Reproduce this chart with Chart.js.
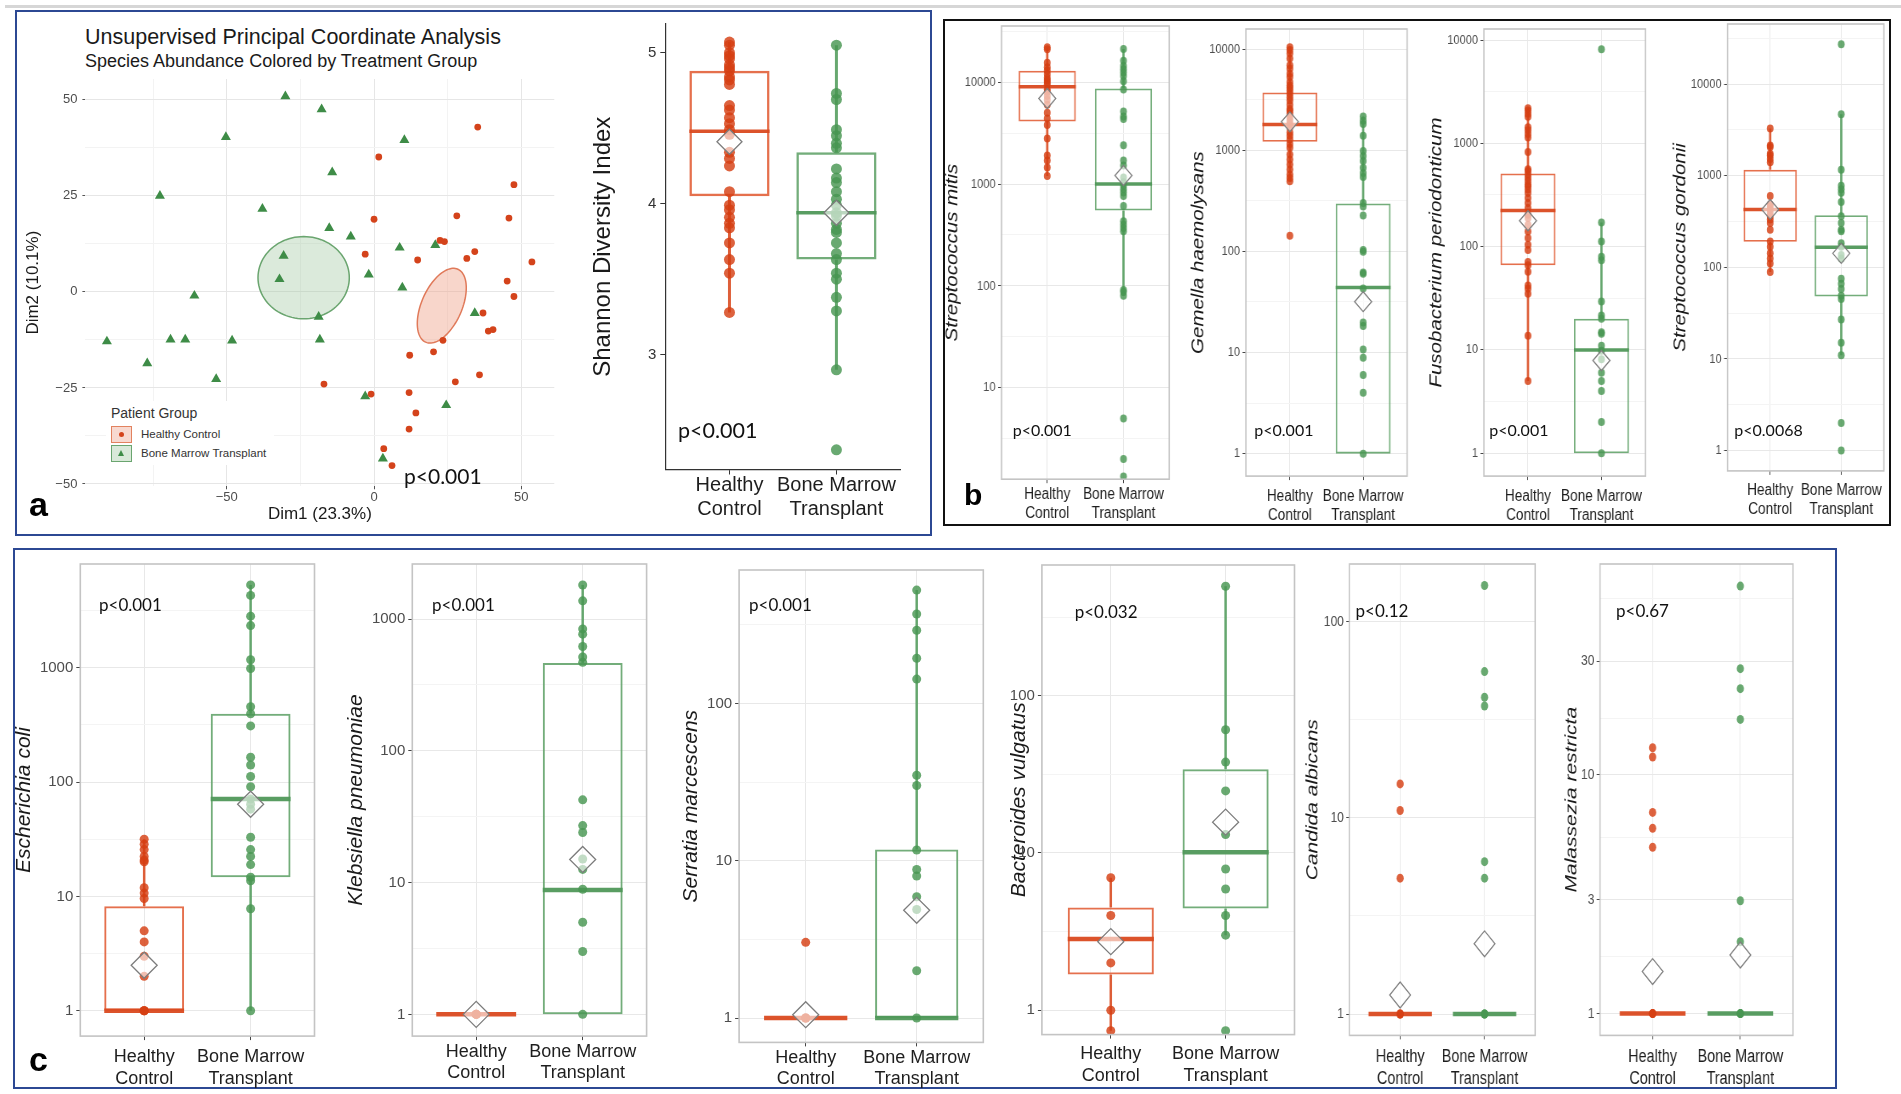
<!DOCTYPE html>
<html lang="en">
<head>
<meta charset="UTF-8">
<meta name="viewport" content="width=device-width, initial-scale=1.0">
<title>Oral microbiome: healthy controls vs bone marrow transplant</title>
<script src="https://cdn.jsdelivr.net/npm/chart.js"></script>
<style>
    html, body { margin: 0; padding: 0; background: #fff; }
    #stage { position: relative; width: 1901px; height: 1094px; overflow: hidden;
             font-family: 'Liberation Sans', Arial, sans-serif; color: #1a1a1a; }
    #stage canvas { position: absolute; }
    .box { position: absolute; box-sizing: border-box; }
    .txt { position: absolute; white-space: nowrap; line-height: 1; }
    .pval { font-family: Lato, 'Open Sans', sans-serif; color: #111; }
    .letter { font-weight: bold; color: #000; }
</style>
</head>
<body>
<div id="stage">
    <div class="box" style="left:5px;top:5px;width:1896px;height:2.5px;background:#d6d6d6"></div>
    <div class="box" style="left:15px;top:10px;width:917px;height:526px;border:2px solid #2c4893"></div>
    <div class="box" style="left:943px;top:19px;width:948px;height:507px;border:2px solid #111"></div>
    <div class="box" style="left:13px;top:548px;width:1824px;height:541px;border:2px solid #2c4893"></div>

    <div class="txt" style="left:85px;top:27px;font-size:21.5px">Unsupervised Principal Coordinate Analysis</div>
    <div class="txt" style="left:85px;top:52px;font-size:18px">Species Abundance Colored by Treatment Group</div>
</div>

<script>
    // ---------- data ----------
    const groupNames = ['Healthy Control', 'Bone Marrow Transplant'];
    const groupLabels = [['Healthy', 'Control'], ['Bone Marrow', 'Transplant']];

    // PCoA points [Dim1, Dim2]
    const pcoaHealthy = [[35.2,42.9],[1.6,35.1],[47.5,27.9],[28.1,19.8],[45.8,19.2],[0.0,18.9],[22.4,13.4],[23.9,13.1],
        [34.2,10.5],[-3.0,9.8],[14.8,8.3],[31.5,8.7],[53.6,7.8],[45.2,2.8],[47.5,-1.2],[37.0,-5.5],[38.8,-10.2],[40.4,-9.8],
        [23.4,-12.6],[12.1,-16.5],[20.2,-15.6],[-17.0,-24.0],[35.8,-21.6],[27.6,-23.4],[-1.0,-26.6],[11.9,-26.2],
        [14.2,-31.5],[11.9,-35.7],[3.3,-40.8],[6.1,-45.2]];
    const pcoaTransplant = [[-30.1,50.9],[-17.8,47.5],[-50.3,40.3],[10.3,39.5],[-14.2,31.1],[-72.7,25.0],[-37.9,21.6],
        [-15.2,16.6],[-7.9,14.4],[8.7,11.5],[20.8,12.2],[-30.7,9.4],[-32.1,3.3],[-1.8,4.5],[9.6,1.1],[-61.0,-1.0],
        [-18.8,-6.5],[34.2,-5.5],[-90.7,-12.9],[-69.1,-12.4],[-64.1,-12.4],[-48.2,-12.7],[-18.4,-12.4],[-77.0,-18.6],
        [-53.6,-22.7],[-3.0,-27.2],[24.5,-29.5],[3.0,-43.4]];
    // ellipse: centre x, centre y, first semi-axis (dx, dy), second semi-axis (dx, dy)
    const pcoaEllipseHealthy = [23.0, -3.6, 5.46, 9.49, 6.27, -2.12];
    const pcoaEllipseTransplant = [-23.9, 3.7, 15.5, 0, 0, 10.7];
    const pcoaXTicks = [-50, 0, 50];
    const pcoaXMinor = [-75, -25, 25];
    const pcoaYTicks = [-50, -25, 0, 25, 50];
    const pcoaYMinor = [-37.5, -12.5, 12.5, 37.5];

    // box stats: [lower whisker, q1, median, q3, upper whisker, mean]
    const shannonHealthy = [5.07,5.05,5.0,4.98,4.96,4.92,4.9,4.88,4.84,4.82,4.79,4.65,4.62,4.57,4.53,4.49,4.46,4.34,4.3,4.25,
        4.08,3.99,3.96,3.91,3.87,3.84,3.74,3.63,3.54,3.28];
    const shannonTransplant = [5.05,4.73,4.69,4.49,4.45,4.4,4.37,4.23,4.17,4.14,4.08,4.03,3.99,3.94,3.92,3.87,3.83,3.81,
        3.74,3.67,3.63,3.54,3.5,3.38,3.29,2.9,2.37];
    const shannonBoxHealthy = [3.28, 4.05, 4.48, 4.88, 5.07, 4.41];
    const shannonBoxTransplant = [2.9, 3.63, 3.94, 4.34, 5.05, 3.94];
    const shannonTicks = [3, 4, 5];

    const decadeTicks = [1, 10, 100, 1000, 10000];
    const halfDecadeTicks = [3.162, 31.62, 316.2, 3162, 31623];
    const malasseziaTicks = [1, 3, 10, 30];
    const malasseziaMinor = [1.732, 5.477, 17.32, 54.77];

    const mitisHealthy = [22000,21000,15500,14000,13000,12000,11000,10500,10000,9500,8500,8000,7300,6700,6000,5000,4400,3800,2800,1900,1700,1450,1200];
    const mitisTransplant = [21100,16200,14400,13400,12400,11500,10200,8460,5150,4590,4350,2400,1700,1520,1160,1040,960,890,824,763,608,431,399,370,343,91,87,80,5,2,1.35];
    const mitisBoxHealthy = [1200, 4100, 9000, 12900, 22000, 6900];
    const mitisBoxTransplant = [80, 550, 1000, 8650, 21100, 1210];

    const gemellaHealthy = [10400,9770,9050,8070,6920,6410,5710,5290,4720,4370,4150,3900,3610,3350,3100,2810,2560,2460,2280,2110,1960,1810,1680,1500,1390,1280,1150,1060,910,811,724,645,575,532,493,143];
    const gemellaTransplant = [2150,1960,1815,1390,984,877,782,670,597,545,300,278,226,103,99,62,60,43,19.8,18.3,10.7,8.9,6.0,4.0,1];
    const gemellaBoxHealthy = [493, 1210, 1800, 3720, 10400, 1910];
    const gemellaBoxTransplant = [1, 1, 44, 297, 2150, 31.8];

    const fusoHealthy = [2190,2080,1930,1810,1430,1340,1230,1140,826,560,540,500,464,431,400,385,357,331,296,265,237,204,189,163,140,121,104,93,71,66,57,42,39,35,13.7,5];
    const fusoTransplant = [8170,171,112,80,74,29.5,21.5,20,14.8,14.3,11,9.8,8.1,6,5,4,2,1];
    const fusoBoxHealthy = [5, 66, 224, 512, 2190, 178];
    const fusoBoxTransplant = [1, 1, 10, 20, 171, 7.9];

    const gordoniiHealthy = [3270,2140,2050,1730,1660,1520,1400,600,486,465,428,393,361,332,305,257,191,168,142,125,110,89];
    const gordoniiTransplant = [27200,4670,1160,774,711,653,515,361,305,257,247,183,168,136,125,75,66,58,49,45,27,15,11,2,1];
    const gordoniiBoxHealthy = [89, 190, 428, 1160, 3270, 428];
    const gordoniiBoxTransplant = [11, 48, 166, 371, 4670, 142];

    const coliHealthy = [31.7,28.6,25.7,22.4,20.8,20.1,11.9,10.7,9.6,5.0,4.0,3.0,2.0,1,1,1];
    const coliTransplant = [5310,4300,2830,2340,1175,986,456,396,310,165,141,112,91,71,64,58,32.9,25.7,22.4,19,14.7,13.7,7.8,1];
    const coliBoxHealthy = [1, 1, 1, 8.2, 31.7, 2.5];
    const coliBoxTransplant = [1, 14.7, 71, 396, 5310, 64];

    const klebsiellaHealthy = [1, 1, 1, 1];
    const klebsiellaTransplant = [1815,1377,843,769,620,516,470,42.5,27.1,24,15.1,12.6,8.9,5.0,3.0,1];
    const klebsiellaBoxHealthy = [1, 1, 1, 1, 1, 1];
    const klebsiellaBoxTransplant = [1, 1, 8.8, 465, 1815, 15];

    const serratiaHealthy = [3.03, 1, 1, 1];
    const serratiaTransplant = [526,371,292,194,143,35,30.1,11.7,8.8,8.0,5.9,4.9,2.0,1];
    const serratiaBoxHealthy = [1, 1, 1, 1, 1, 1.05];
    const serratiaBoxTransplant = [1, 1, 1, 11.8, 526, 4.84];

    const bacteroidesHealthy = [6.95, 4.0, 2.0, 1, 0.74];
    const bacteroidesTransplant = [496, 60.7, 37.8, 24.8, 13.1, 7.9, 5.9, 4.0, 3.0, 0.74];
    const bacteroidesBoxHealthy = [0.74, 1.69, 2.84, 4.5, 6.95, 2.73];
    const bacteroidesBoxTransplant = [3.0, 4.43, 10.1, 34.1, 496, 15.7];

    const candidaHealthy = [14.9, 10.9, 4.93, 1, 1, 1];
    const candidaTransplant = [153, 55.7, 41.2, 37.2, 5.98, 4.93, 1, 1, 1];
    const candidaBoxHealthy = [1, 1, 1, 1, 1, 1.25];
    const candidaBoxTransplant = [1, 1, 1, 1, 1, 2.28];

    const malasseziaHealthy = [13.0, 11.9, 6.97, 5.98, 4.98, 1, 1, 1];
    const malasseziaTransplant = [61.9, 27.9, 23.0, 17.1, 2.97, 2.0, 1, 1, 1];
    const malasseziaBoxHealthy = [1, 1, 1, 1, 1, 1.5];
    const malasseziaBoxTransplant = [1, 1, 1, 1, 1, 1.76];

    const shannonPanel = { title: 'Shannon Diversity Index', p: 'p<0.001', log: false, min: 2.24, max: 5.19,
        ticks: shannonTicks, minor: [], healthy: shannonHealthy, transplant: shannonTransplant,
        boxHealthy: shannonBoxHealthy, boxTransplant: shannonBoxTransplant };

    const panelsB = [
        { title: 'Streptococcus mitis', p: 'p<0.001', log: true, min: 1.27, max: 35500, ticks: decadeTicks, minor: halfDecadeTicks,
          healthy: mitisHealthy, transplant: mitisTransplant, boxHealthy: mitisBoxHealthy, boxTransplant: mitisBoxTransplant },
        { title: 'Gemella haemolysans', p: 'p<0.001', log: true, min: 0.63, max: 15800, ticks: decadeTicks, minor: halfDecadeTicks,
          healthy: gemellaHealthy, transplant: gemellaTransplant, boxHealthy: gemellaBoxHealthy, boxTransplant: gemellaBoxTransplant },
        { title: 'Fusobacterium periodonticum', p: 'p<0.001', log: true, min: 0.64, max: 12800, ticks: decadeTicks, minor: halfDecadeTicks,
          healthy: fusoHealthy, transplant: fusoTransplant, boxHealthy: fusoBoxHealthy, boxTransplant: fusoBoxTransplant },
        { title: 'Streptococcus gordonii', p: 'p<0.0068', log: true, min: 0.62, max: 45200, ticks: decadeTicks, minor: halfDecadeTicks,
          healthy: gordoniiHealthy, transplant: gordoniiTransplant, boxHealthy: gordoniiBoxHealthy, boxTransplant: gordoniiBoxTransplant }
    ];

    const panelsC = [
        { title: 'Escherichia coli', p: 'p<0.001', log: true, min: 0.647, max: 8090, ticks: decadeTicks, minor: halfDecadeTicks,
          healthy: coliHealthy, transplant: coliTransplant, boxHealthy: coliBoxHealthy, boxTransplant: coliBoxTransplant },
        { title: 'Klebsiella pneumoniae', p: 'p<0.001', log: true, min: 0.684, max: 2620, ticks: decadeTicks, minor: halfDecadeTicks,
          healthy: klebsiellaHealthy, transplant: klebsiellaTransplant, boxHealthy: klebsiellaBoxHealthy, boxTransplant: klebsiellaBoxTransplant },
        { title: 'Serratia marcescens', p: 'p<0.001', log: true, min: 0.73, max: 706, ticks: decadeTicks, minor: halfDecadeTicks,
          healthy: serratiaHealthy, transplant: serratiaTransplant, boxHealthy: serratiaBoxHealthy, boxTransplant: serratiaBoxTransplant },
        { title: 'Bacteroides vulgatus', p: 'p<0.032', log: true, min: 0.736, max: 677, ticks: decadeTicks, minor: halfDecadeTicks,
          healthy: bacteroidesHealthy, transplant: bacteroidesTransplant, boxHealthy: bacteroidesBoxHealthy, boxTransplant: bacteroidesBoxTransplant },
        { title: 'Candida albicans', p: 'p<0.12', log: true, min: 0.778, max: 197, ticks: decadeTicks, minor: halfDecadeTicks,
          healthy: candidaHealthy, transplant: candidaTransplant, boxHealthy: candidaBoxHealthy, boxTransplant: candidaBoxTransplant },
        { title: 'Malassezia restricta', p: 'p<0.67', log: true, min: 0.81, max: 76.6, ticks: malasseziaTicks, minor: malasseziaMinor,
          healthy: malasseziaHealthy, transplant: malasseziaTransplant, boxHealthy: malasseziaBoxHealthy, boxTransplant: malasseziaBoxTransplant }
    ];

    // ---------- layout (page pixels) ----------
    const FONT = "'Liberation Sans', Arial, sans-serif";
    const styleShannon = { sx: 1, xh: 62, tFont: 24, tItalic: false, yFont: 15, xFont: 20, pFont: 21.5, pt: 5.5, dia: 12.5, box: 2.5, med: 3.5, whisker: 3, tick: 5, classic: true };
    const styleB = { sx: 0.85, xh: 48, tFont: 20.5, tItalic: true, yFont: 13, xFont: 16, pFont: 16, pt: 4, dia: 10, box: 1.8, med: 3.5, whisker: 2.3, tick: 4 };
    const styleC = { xh: 56, tFont: 21, tItalic: true, yFont: 15, xFont: 18, pFont: 17, pt: 4.5, dia: 13, box: 2, med: 4.5, whisker: 2.5, tick: 4 };

    const layoutShannon = { cl: 589.4, cw: 326, area: [665.7, 23.5, 901, 469], labelY: 484.9, pX: 678, pY: 431.8 };
    const layoutB = [
        { cl: 942, cw: 238, area: [1001.5, 25.9, 1169.2, 479.1], labelY: 494, pX: 1012.7, pY: 430.8 },
        { cl: 1188, cw: 232, area: [1245.9, 29.3, 1407.1, 476.4], labelY: 496.7, pX: 1254.3, pY: 430.8 },
        { cl: 1426.3, cw: 232, area: [1484.2, 29.3, 1645.8, 476.4], labelY: 496.7, pX: 1489.3, pY: 430.8 },
        { cl: 1670.1, cw: 219, area: [1727.6, 23.5, 1884, 470.4], labelY: 490, pX: 1734.3, pY: 430 }
    ];
    const layoutC = [
        { cl: 12.2, cw: 314, sx: 1, area: [80.5, 564.3, 314.7, 1036.4], labelY: 1057.5, pX: 99, pY: 604.7 },
        { cl: 343.7, cw: 316, sx: 1, area: [412, 564.3, 646.3, 1036.4], labelY: 1052.2, pX: 432, pY: 604.7 },
        { cl: 679, cw: 316, sx: 1, area: [739.1, 570.3, 983.3, 1042.7], labelY: 1058, pX: 749, pY: 604.7 },
        { cl: 1007.4, cw: 297, sx: 1, area: [1042.3, 565, 1294.9, 1034.6], labelY: 1054, pX: 1074.7, pY: 611.7 },
        { cl: 1303.3, cw: 241, sx: 0.8, area: [1349.8, 564.3, 1535.5, 1035.7], labelY: 1057.5, pX: 1355.5, pY: 611 },
        { cl: 1561.9, cw: 243, sx: 0.8, area: [1599.9, 564.3, 1792.9, 1035.7], labelY: 1057.5, pX: 1616, pY: 611 }
    ];

    const PT_RED = 'rgba(214,64,20,0.82)', PT_GREEN = 'rgba(72,150,82,0.82)';
    const WH_RED = 'rgba(218,78,36,0.9)', WH_GREEN = 'rgba(86,158,96,0.9)';
    const BOX_RED = 'rgba(226,96,58,0.9)', BOX_GREEN = 'rgba(100,164,108,0.9)';
    const MED_RED = 'rgba(218,74,32,0.95)', MED_GREEN = 'rgba(80,152,90,0.95)';
    const GRID_MAJOR = '#e8e8e8', GRID_MINOR = '#f4f4f4';

    const stage = document.getElementById('stage');

    Chart.register({
        id: 'frame',
        afterDatasetsDraw(chart, args, opts) {
            if (!opts || !opts.color) return;
            const a = chart.chartArea, ctx = chart.ctx;
            ctx.save();
            ctx.strokeStyle = opts.color;
            ctx.lineWidth = opts.width;
            ctx.strokeRect(a.left, a.top, a.right - a.left, a.bottom - a.top);
            ctx.restore();
        }
    });

    function addText(text, x, top, size, cls, color) {
        const d = document.createElement('div');
        d.className = 'txt ' + (cls || '');
        d.style.left = x + 'px';
        d.style.top = top + 'px';
        d.style.fontSize = size + 'px';
        if (color) d.style.color = color;
        d.textContent = text;
        stage.appendChild(d);
        return d;
    }
    function addBox(css) {
        const d = document.createElement('div');
        d.className = 'box';
        d.style.cssText = css;
        stage.appendChild(d);
    }

    // canvas placed so that the chart area lands on g.area
    function mount(g, sx, xh) {
        const [l, t, r, b] = g.area;
        const ct = t - 14;
        const ch = Math.round(b + xh - ct);
        const w = Math.round(g.cw / sx);
        const c = document.createElement('canvas');
        c.width = w;
        c.height = ch;
        c.style.cssText = 'left:' + g.cl + 'px;top:' + ct + 'px;width:' + w + 'px;height:' + ch +
            'px;transform:scaleX(' + sx + ');transform-origin:0 0;';
        stage.appendChild(c);
        return {
            canvas: c,
            yW: (l - g.cl) / sx,
            xH: ct + ch - b,
            padTop: t - ct,
            padRight: w - (r - g.cl) / sx,
            unit: (r - l) / sx / 2.2
        };
    }
    const fitX = (sc, h) => { sc.height = h; sc.paddingLeft = 0; sc.paddingRight = 0; };
    const fitY = (sc, w) => { sc.width = w; sc.paddingTop = 0; sc.paddingBottom = 0; };

    function boxPanel(g, s, d) {
        const sx = g.sx || s.sx || 1;
        const m = mount(g, sx, s.xh);
        const majors = d.ticks.filter(v => v >= d.min && v <= d.max);
        const minors = d.minor.filter(v => v >= d.min && v <= d.max);
        const allTicks = majors.concat(minors).sort((a, b) => a - b);
        const isMajor = v => majors.indexOf(v) >= 0;
        const st = [d.boxHealthy, d.boxTransplant];
        const lh = s.xFont * 1.2;
        const xPad = g.labelY - (g.area[3] + s.tick + lh / 2);
        const classic = !!s.classic;

        new Chart(m.canvas, {
            type: 'bar',
            data: {
                datasets: [
                    { type: 'scatter', data: st.map((v, i) => ({ x: i + 1, y: v[5] })), pointStyle: 'rectRot',
                      pointRadius: s.dia, pointBackgroundColor: 'rgba(255,255,255,0.6)', pointBorderColor: '#7d7d7d',
                      pointBorderWidth: 1.3, clip: 0, order: 0 },
                    { type: 'scatter', data: d.healthy.map(v => ({ x: 1, y: v })), pointRadius: s.pt,
                      pointBackgroundColor: PT_RED, pointBorderWidth: 0, clip: 0, order: 1 },
                    { type: 'scatter', data: d.transplant.map(v => ({ x: 2, y: v })), pointRadius: s.pt,
                      pointBackgroundColor: PT_GREEN, pointBorderWidth: 0, clip: 0, order: 1 },
                    { type: 'scatter', data: st.map((v, i) => ({ x: i + 1, y: v[2] })), pointStyle: 'line',
                      pointRadius: m.unit * 0.375, pointBorderColor: [MED_RED, MED_GREEN], pointBorderWidth: s.med,
                      clip: 0, order: 2 },
                    { type: 'bar', data: st.map((v, i) => ({ x: i + 1, y: [v[1], v[3]] })), backgroundColor: 'rgba(255,255,255,0)',
                      borderColor: [BOX_RED, BOX_GREEN], borderWidth: s.box, borderSkipped: false, grouped: false,
                      categoryPercentage: 1, barPercentage: 0.75, order: 3 },
                    { type: 'bar', data: st.map((v, i) => ({ x: i + 1, y: [v[0], v[1]] })), backgroundColor: [WH_RED, WH_GREEN],
                      borderWidth: 0, grouped: false, categoryPercentage: 1, barPercentage: (s.whisker / sx) / m.unit, order: 4 },
                    { type: 'bar', data: st.map((v, i) => ({ x: i + 1, y: [v[3], v[4]] })), backgroundColor: [WH_RED, WH_GREEN],
                      borderWidth: 0, grouped: false, categoryPercentage: 1, barPercentage: (s.whisker / sx) / m.unit, order: 4 }
                ]
            },
            options: {
                responsive: false,
                animation: false,
                events: [],
                layout: { autoPadding: false, padding: { top: m.padTop, right: m.padRight, left: 0, bottom: 0 } },
                plugins: {
                    legend: { display: false },
                    tooltip: { enabled: false },
                    frame: classic ? false : { color: '#c4c4c4', width: 1.6 }
                },
                scales: {
                    x: {
                        type: 'linear', min: 0.4, max: 2.6, offset: false,
                        afterBuildTicks: sc => { sc.ticks = [{ value: 1 }, { value: 2 }]; },
                        afterFit: sc => fitX(sc, m.xH),
                        ticks: { callback: v => groupLabels[v - 1], font: { family: FONT, size: s.xFont, lineHeight: 1.2 },
                                 color: '#1e1e1e', padding: xPad, autoSkip: false, maxRotation: 0, minRotation: 0 },
                        grid: classic ? { offset: false, drawOnChartArea: false, color: '#333', tickLength: s.tick }
                                      : { offset: false, color: GRID_MAJOR, tickColor: '#444', tickLength: s.tick, lineWidth: 1 },
                        border: classic ? { display: true, color: '#333', width: 1.2 } : { display: false }
                    },
                    y: {
                        type: d.log ? 'logarithmic' : 'linear', min: d.min, max: d.max,
                        afterBuildTicks: sc => { sc.ticks = allTicks.map(v => ({ value: v })); },
                        afterFit: sc => fitY(sc, m.yW),
                        ticks: { callback: v => isMajor(v) ? String(v) : '', font: { family: FONT, size: s.yFont },
                                 color: classic ? '#333' : '#4d4d4d', padding: classic ? 4 : 3, autoSkip: false },
                        grid: classic ? { drawOnChartArea: false, color: '#333', tickLength: s.tick }
                                      : { color: c => isMajor(c.tick.value) ? GRID_MAJOR : GRID_MINOR,
                                          tickColor: c => isMajor(c.tick.value) ? '#444' : 'rgba(0,0,0,0)',
                                          tickLength: s.tick, lineWidth: 1 },
                        border: classic ? { display: true, color: '#333', width: 1.2 } : { display: false },
                        title: { display: true, text: d.title, color: '#1a1a1a', padding: 0,
                                 font: { family: FONT, size: s.tFont, style: s.tItalic ? 'italic' : 'normal' } }
                    }
                }
            }
        });
        addText(d.p, g.pX, g.pY - 0.53 * s.pFont, s.pFont, 'pval');
    }

    // ---------- panel a: PCoA ----------
    const ellipsePlugin = {
        id: 'ellipses',
        beforeDatasetsDraw(chart) {
            const { ctx, scales: { x, y } } = chart;
            const shapes = [
                { e: pcoaEllipseTransplant, fill: 'rgba(160,200,160,0.38)', line: '#6aa56f' },
                { e: pcoaEllipseHealthy, fill: 'rgba(240,165,140,0.45)', line: '#e07a5a' }
            ];
            shapes.forEach(sh => {
                const e = sh.e;
                ctx.save();
                ctx.beginPath();
                for (let k = 0; k <= 96; k++) {
                    const t = k / 96 * 2 * Math.PI;
                    const px = x.getPixelForValue(e[0] + e[2] * Math.cos(t) + e[4] * Math.sin(t));
                    const py = y.getPixelForValue(e[1] + e[3] * Math.cos(t) + e[5] * Math.sin(t));
                    if (k === 0) ctx.moveTo(px, py); else ctx.lineTo(px, py);
                }
                ctx.closePath();
                ctx.fillStyle = sh.fill;
                ctx.fill();
                ctx.strokeStyle = sh.line;
                ctx.lineWidth = 1.5;
                ctx.stroke();
                ctx.restore();
            });
        }
    };

    const fmtSigned = v => v < 0 ? '\u2212' + Math.abs(v) : String(v);
    const layoutPcoa = { cl: 23, cw: 542, area: [85.4, 79.3, 554.3, 486.6] };
    const pm = mount(layoutPcoa, 1, 38.4);
    const pcoaXAll = pcoaXTicks.concat(pcoaXMinor).sort((a, b) => a - b);
    const pcoaYAll = pcoaYTicks.concat(pcoaYMinor).sort((a, b) => a - b);

    new Chart(pm.canvas, {
        type: 'scatter',
        data: {
            datasets: [
                { label: groupNames[0], data: pcoaHealthy.map(p => ({ x: p[0], y: p[1] })), pointStyle: 'circle',
                  pointRadius: 3.4, pointBackgroundColor: '#d4431b', pointBorderWidth: 0 },
                { label: groupNames[1], data: pcoaTransplant.map(p => ({ x: p[0], y: p[1] })), pointStyle: 'triangle',
                  pointRadius: 5.8, pointBackgroundColor: '#3e8c47', pointBorderWidth: 0 }
            ]
        },
        options: {
            responsive: false,
            animation: false,
            events: [],
            layout: { autoPadding: false, padding: { top: pm.padTop, right: pm.padRight, left: 0, bottom: 0 } },
            plugins: { legend: { display: false }, tooltip: { enabled: false }, frame: false },
            scales: {
                x: {
                    type: 'linear', min: -98, max: 61.2,
                    afterBuildTicks: sc => { sc.ticks = pcoaXAll.map(v => ({ value: v })); },
                    afterFit: sc => fitX(sc, pm.xH),
                    ticks: { callback: v => pcoaXTicks.indexOf(v) >= 0 ? fmtSigned(v) : '', font: { family: FONT, size: 13 },
                             color: '#4d4d4d', padding: 0, autoSkip: false, maxRotation: 0 },
                    grid: { color: c => pcoaXTicks.indexOf(c.tick.value) >= 0 ? '#e6e6e6' : '#f3f3f3',
                            tickColor: c => pcoaXTicks.indexOf(c.tick.value) >= 0 ? '#555' : 'rgba(0,0,0,0)', tickLength: 3 },
                    border: { display: false },
                    title: { display: true, text: 'Dim1 (23.3%)', color: '#1a1a1a', padding: 0, font: { family: FONT, size: 17 } }
                },
                y: {
                    type: 'linear', min: -50.6, max: 55.4,
                    afterBuildTicks: sc => { sc.ticks = pcoaYAll.map(v => ({ value: v })); },
                    afterFit: sc => fitY(sc, pm.yW),
                    ticks: { callback: v => pcoaYTicks.indexOf(v) >= 0 ? fmtSigned(v) : '', font: { family: FONT, size: 13 },
                             color: '#4d4d4d', padding: 5, autoSkip: false },
                    grid: { color: c => pcoaYTicks.indexOf(c.tick.value) >= 0 ? '#e6e6e6' : '#f3f3f3',
                            tickColor: c => pcoaYTicks.indexOf(c.tick.value) >= 0 ? '#555' : 'rgba(0,0,0,0)', tickLength: 3 },
                    border: { display: false },
                    title: { display: true, text: 'Dim2 (10.1%)', color: '#1a1a1a', padding: 0, font: { family: FONT, size: 17 } }
                }
            }
        },
        plugins: [ellipsePlugin]
    });
    addText('p<0.001', 404, 476.5 - 0.53 * 21, 21, 'pval');

    // legend of the PCoA, drawn over the plot like ggplot does
    addBox('left:106px;top:401px;width:168px;height:64px;background:#fff');
    addText('Patient Group', 111, 406, 14, '', '#333');
    addBox('left:111px;top:426px;width:21px;height:17px;border:1.5px solid #e2825f;background:rgba(240,170,150,0.45)');
    addBox('left:119px;top:432px;width:5px;height:5px;border-radius:50%;background:#d4431b');
    addBox('left:111px;top:445px;width:21px;height:17px;border:1.5px solid #6aa56f;background:rgba(160,200,160,0.4)');
    addBox('left:118px;top:450px;width:0;height:0;border-left:3.5px solid transparent;border-right:3.5px solid transparent;border-bottom:6px solid #3e8c47');
    addText(groupNames[0], 141, 429, 11.5, '', '#333');
    addText(groupNames[1], 141, 448, 11.5, '', '#333');

    // ---------- panel a: Shannon, panels b and c ----------
    boxPanel(layoutShannon, styleShannon, shannonPanel);
    panelsB.forEach((d, i) => boxPanel(layoutB[i], styleB, d));
    panelsC.forEach((d, i) => boxPanel(layoutC[i], styleC, d));

    addText('a', 29, 487, 34, 'letter');
    addText('b', 964, 480, 30, 'letter');
    addText('c', 29, 1042, 34, 'letter');
</script>
</body>
</html>
